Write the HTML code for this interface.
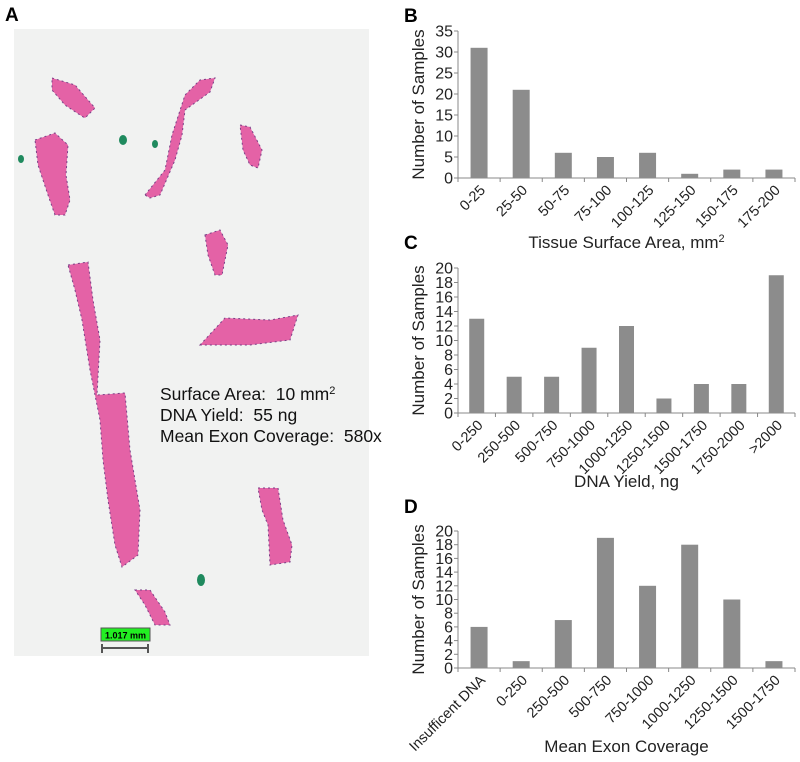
<!DOCTYPE html>
<html><head><meta charset="utf-8"><style>
body{margin:0;background:#fff;}
svg{display:block;font-family:"Liberation Sans",Arial,sans-serif;}
</style></head><body>
<svg width="800" height="762" viewBox="0 0 800 762">
<g>
<text x="5" y="21" font-size="19" font-weight="bold">A</text>
<rect x="14" y="29" width="355" height="627" fill="#f1f2f1"/>
<g fill="#e462a6" stroke="#7a3f86" stroke-width="1" stroke-dasharray="2 3">
<polygon points="52,78 75,85 95,108 85,118 80,115 65,105 52,90"/>
<polygon points="35,140 55,133 68,145 66,175 70,200 65,215 55,215 48,195 38,165"/>
<polygon points="145,195 165,170 172,135 185,95 200,80 215,78 210,92 185,110 182,135 175,160 160,195 150,198"/>
<polygon points="240,125 250,127 262,150 258,168 250,165 243,150"/>
<polygon points="205,235 220,230 228,245 222,275 215,275 208,255"/>
<polygon points="200,345 225,318 270,320 298,315 290,340 250,345"/>
<polygon points="68,265 88,262 93,300 100,340 97,395 125,393 130,450 140,510 138,555 122,567 115,545 108,500 103,460 100,420 90,370 82,320 75,290"/>
<polygon points="258,488 278,488 283,520 292,545 290,562 270,565 268,525 262,510"/>
<polygon points="135,590 150,590 165,612 170,625 155,625 145,605"/>
</g>
<g fill="#1f8a5e">
<ellipse cx="123" cy="140" rx="4" ry="5"/><ellipse cx="155" cy="144" rx="3" ry="4"/><ellipse cx="21" cy="159" rx="3" ry="4"/><ellipse cx="201" cy="580" rx="4" ry="6"/>
</g>
<g font-size="17.5" fill="#111">
<text x="160" y="400">Surface Area:&#160; 10 mm<tspan font-size="11" dy="-6">2</tspan></text>
<text x="160" y="421">DNA Yield:&#160; 55 ng</text>
<text x="160" y="442">Mean Exon Coverage:&#160; 580x</text>
</g>
<g>
<rect x="101" y="628" width="49" height="13" fill="#22ee22" stroke="#555"/>
<text x="125.5" y="638.5" font-size="9" font-weight="bold" text-anchor="middle">1.017 mm</text>
<path d="M102,644 V653 M102,648 H148 M148,644 V653" stroke="#555" stroke-width="2" fill="none"/>
</g>
</g>
<g id="charts"></g>
</svg>
<script>
const catsB=["0-25","25-50","50-75","75-100","100-125","125-150","150-175","175-200"];
const valsB=[31,21,6,5,6,1,2,2];
const ticksB=[0,5,10,15,20,25,30,35];
const catsC=["0-250","250-500","500-750","750-1000","1000-1250","1250-1500","1500-1750","1750-2000",">2000"];
const valsC=[13,5,5,9,12,2,4,4,19];
const ticksC=[0,2,4,6,8,10,12,14,16,18,20];
const catsD=["Insufficent DNA","0-250","250-500","500-750","750-1000","1000-1250","1250-1500","1500-1750"];
const valsD=[6,1,7,19,12,18,10,1];
const ticksD=[0,2,4,6,8,10,12,14,16,18,20];
const NS="http://www.w3.org/2000/svg";
const root=document.getElementById('charts');
function mk(tag,attrs,parent,text){const e=document.createElementNS(NS,tag);for(const k in attrs)e.setAttribute(k,attrs[k]);if(text!==undefined)e.textContent=text;parent.appendChild(e);return e;}
function chart(id,letter,letterY,cats,vals,ticks,yTop,yBot,title,titleY,barW){
  const g=mk('g',{},root);
  
  
  const x0=458,x1=795,max=ticks[ticks.length-1];
  const ys=v=>yBot-(v/max)*(yBot-yTop);
  const band=(x1-x0)/cats.length;
  const lt=mk('text',{x:404,y:letterY,'font-size':19,'font-weight':'bold'},g,letter);
  
  
  mk('line',{x1:x0,y1:yTop,x2:x0,y2:yBot,stroke:'#888'},g);
  mk('line',{x1:x0,y1:yBot,x2:x1,y2:yBot,stroke:'#888'},g);
  ticks.forEach(t=>{
    mk('line',{x1:x0-4,y1:ys(t),x2:x0,y2:ys(t),stroke:'#888'},g);
    const tl=mk('text',{x:x0-5,y:ys(t)+5.5,'font-size':16,'text-anchor':'end',fill:'#222'},g,t);
    
    
  });
  for(let i=0;i<=cats.length;i++)mk('line',{x1:x0+i*band,y1:yBot,x2:x0+i*band,y2:yBot+4,stroke:'#888'},g);
  cats.forEach((c,i)=>{
    const cx=x0+band*(i+0.5);
    const b=mk('rect',{x:cx-barW/2,y:ys(vals[i]),width:barW,height:yBot-ys(vals[i]),fill:'#8c8c8c'},g);
    
    
    const tx=cx+7,ty=yBot+13;
    const l=mk('text',{x:tx,y:ty,'font-size':14.5,'text-anchor':'end',fill:'#222',transform:`rotate(-45 ${tx} ${ty})`},g,c);
    
    
  });
  const yt=mk('text',{x:0,y:0,'font-size':17,'text-anchor':'middle',fill:'#222',transform:`translate(424 ${(yTop+yBot)/2}) rotate(-90)`},g,'Number of Samples');
  
  
  const xt=mk('text',{x:(x0+x1)/2,y:titleY,'font-size':17,'text-anchor':'middle',fill:'#222'},g,title);
  
  
  return xt;
}
const tB=chart('b','B',22,catsB,valsB,ticksB,31,178,'Tissue Surface Area, mm',248,17);
mk('tspan',{'font-size':11,dy:-6},tB,'2');
chart('c','C',249,catsC,valsC,ticksC,268,413,'DNA Yield, ng',487,15);
chart('d','D',513,catsD,valsD,ticksD,531,668,'Mean Exon Coverage',752,17);
</script>
</body></html>
